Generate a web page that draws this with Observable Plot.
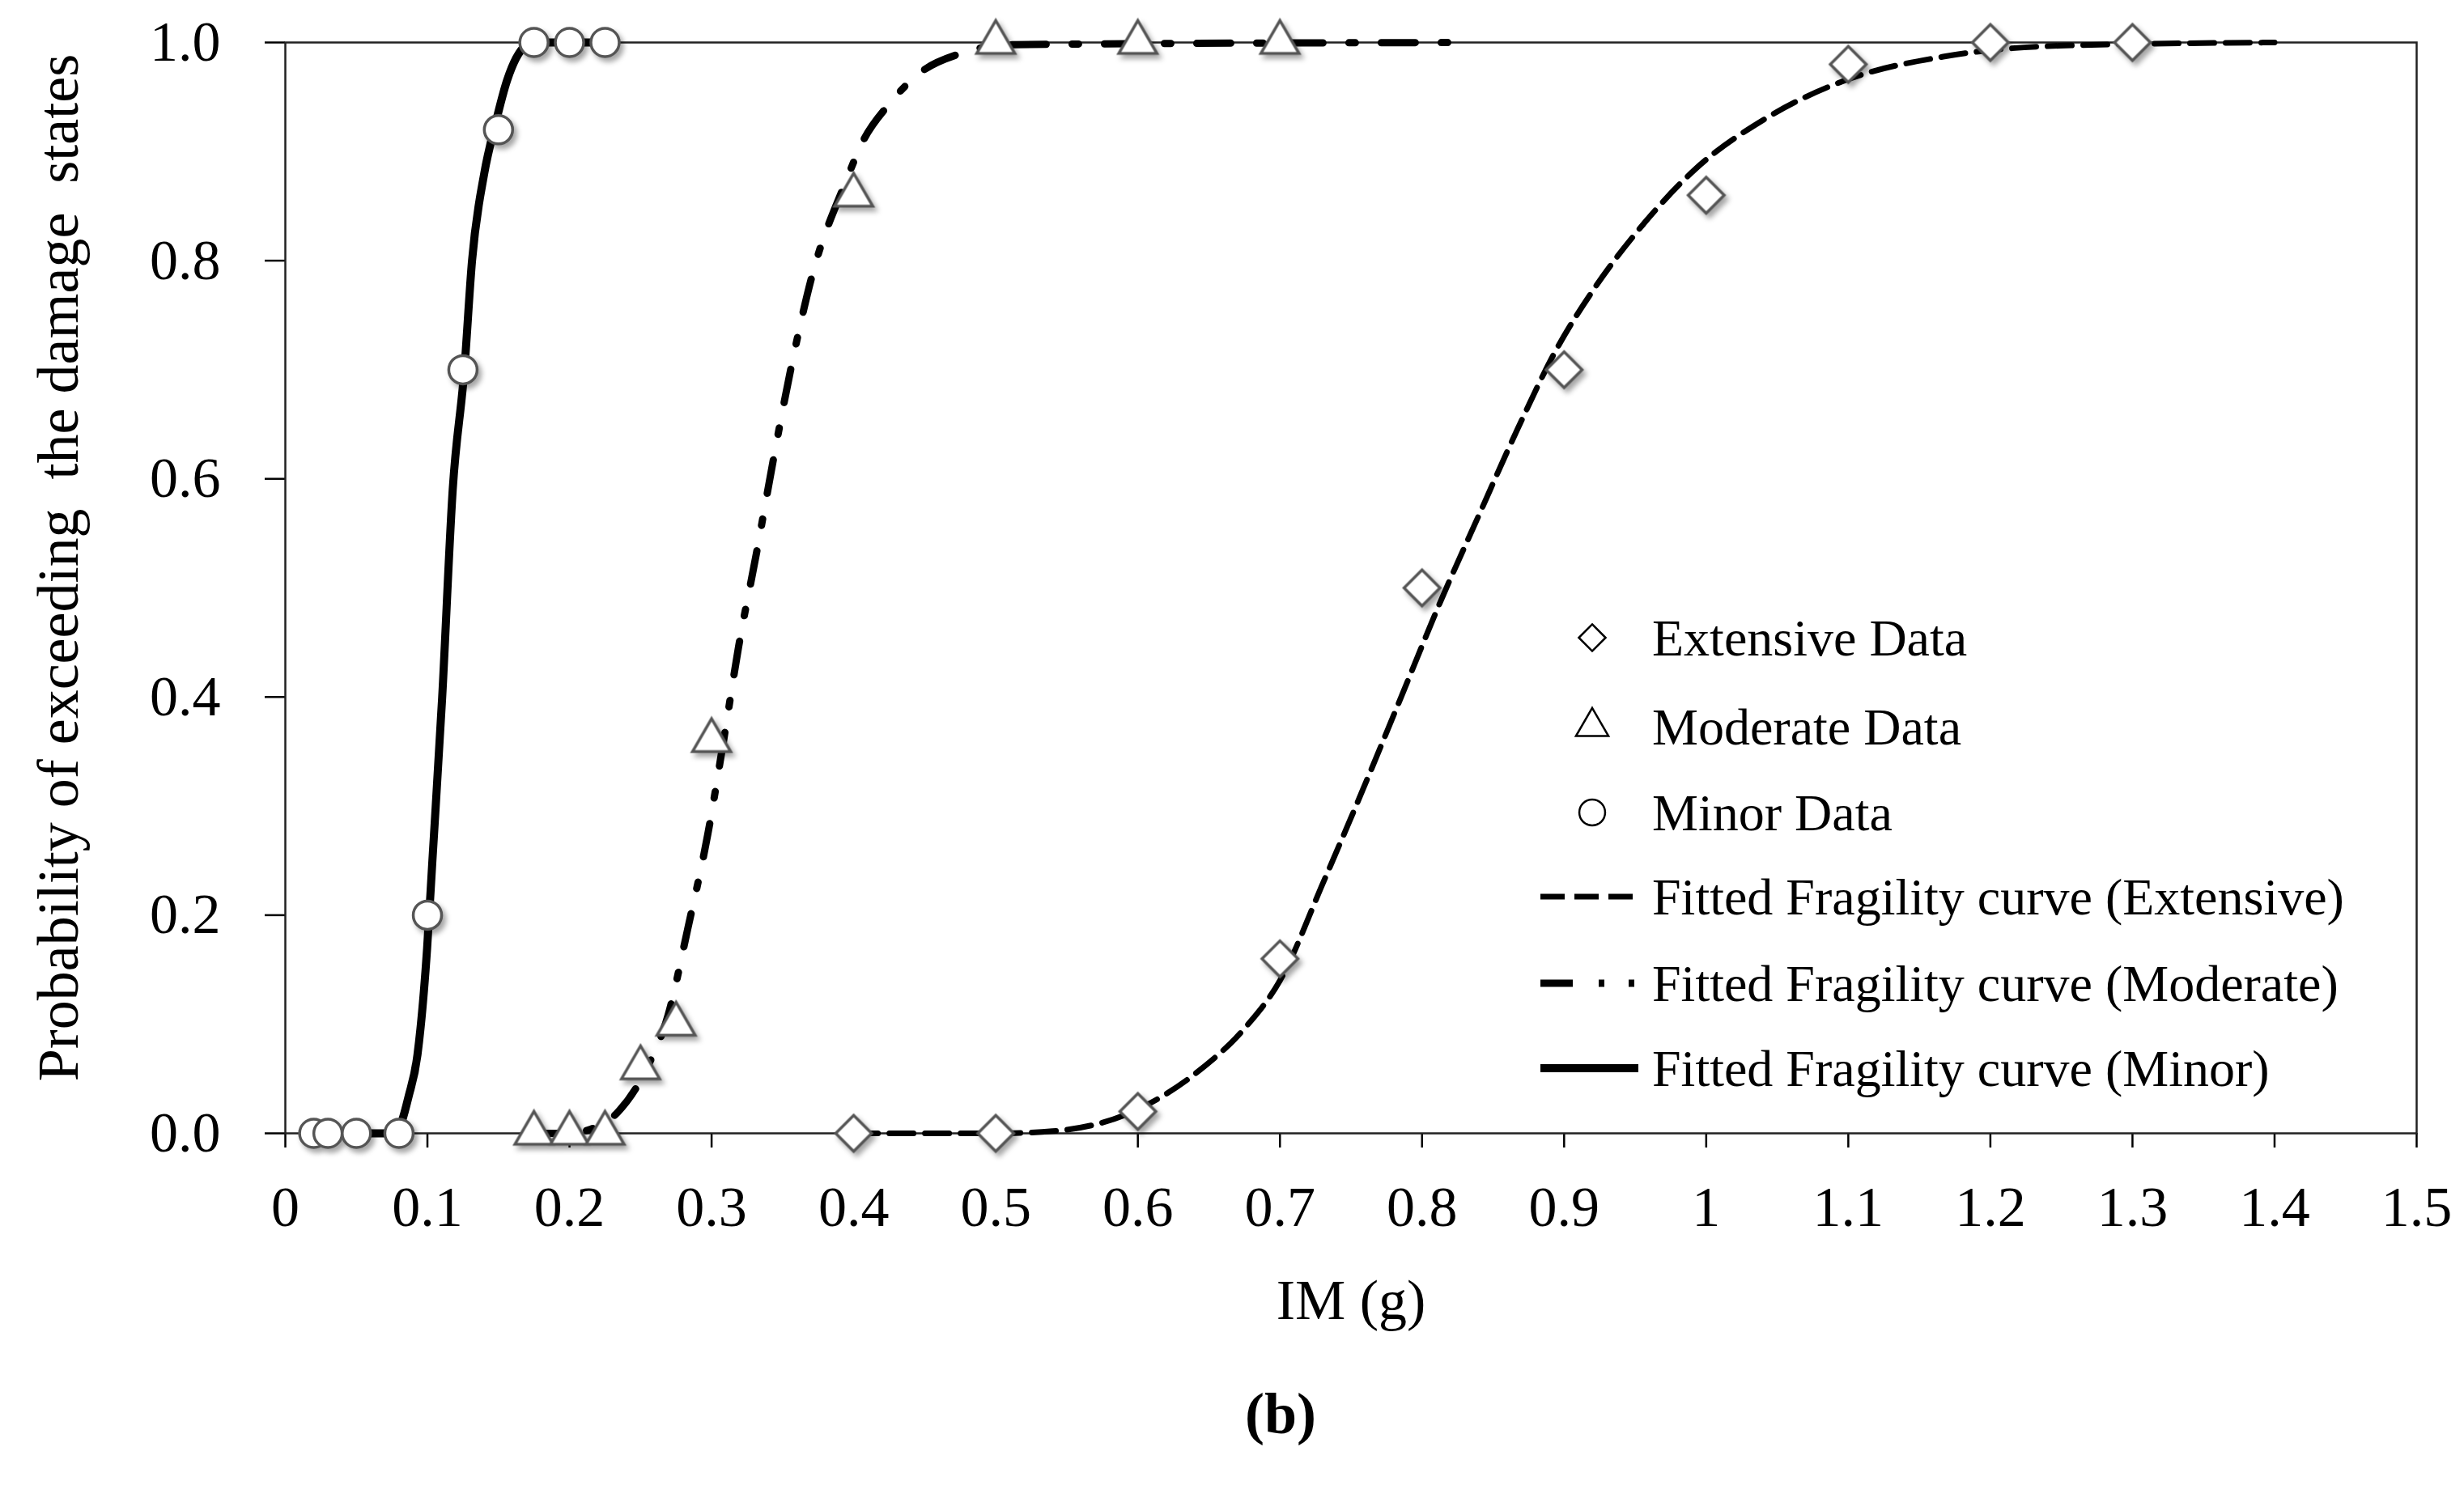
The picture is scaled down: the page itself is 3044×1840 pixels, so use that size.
<!DOCTYPE html>
<html><head><meta charset="utf-8">
<script src="https://cdn.jsdelivr.net/npm/d3@7"></script>
<script src="https://cdn.jsdelivr.net/npm/@observablehq/plot@0.6"></script>
<style>
body{margin:0;background:#fff;}
#wrap{position:relative;width:3044px;height:1840px;font-family:"Liberation Serif","Times New Roman",serif;}
#chart svg text{white-space:pre;}
#legend{position:absolute;left:0;top:0;}
#legend text{white-space:pre;}
#caption{position:absolute;left:1582px;top:1747px;transform:translate(-50%,-50%);font-size:72px;font-weight:bold;color:#000;}
</style></head><body>
<div id="wrap"><div id="chart"></div><svg id="legend" width="3044" height="1840"></svg><div id="caption">(b)</div></div>
<script>
// ---- data points ----
const extensiveX = [0.4, 0.5, 0.6, 0.7, 0.8, 0.9, 1.0, 1.1, 1.2, 1.3];
const extensiveY = [0, 0, 0.02, 0.16, 0.5, 0.7, 0.86, 0.98, 1, 1];
const moderateX = [0.175, 0.2, 0.225, 0.25, 0.275, 0.3, 0.4, 0.5, 0.6, 0.7];
const moderateY = [0, 0, 0, 0.06, 0.1, 0.36, 0.86, 1, 1, 1];
const minorX = [0.02, 0.03, 0.05, 0.08, 0.1, 0.125, 0.15, 0.175, 0.2, 0.225];
const minorY = [0, 0, 0, 0, 0.2, 0.7, 0.92, 1, 1, 1];

// ---- fitted curves ----
const extCurveX = [0.4, 0.5, 0.54, 0.6, 0.6436, 0.6763, 0.7, 0.7308, 0.758, 0.7853, 0.8125, 0.8398, 0.867, 0.8943, 0.9215, 0.9542, 0.9924, 1.0414, 1.1014, 1.1668, 1.2485, 1.4];
const extCurveY = [0, 0, 0.002, 0.022, 0.058, 0.098, 0.14, 0.231, 0.314, 0.4, 0.486, 0.566, 0.645, 0.718, 0.775, 0.831, 0.884, 0.93, 0.967, 0.987, 0.997, 1];
const modCurveX = [0.17, 0.2, 0.213, 0.2337, 0.2553, 0.2693, 0.2833, 0.2973, 0.3088, 0.319, 0.3316, 0.3431, 0.3558, 0.3711, 0.394, 0.4067, 0.4246, 0.4475, 0.4755, 0.5086, 0.83];
const modCurveY = [0, 0, 0.003, 0.019, 0.062, 0.108, 0.188, 0.274, 0.363, 0.446, 0.532, 0.615, 0.701, 0.788, 0.871, 0.910, 0.943, 0.973, 0.99, 0.998, 1];
const minCurveX = [0.02, 0.05, 0.078, 0.082, 0.0866, 0.093, 0.0998, 0.1035, 0.1104, 0.1178, 0.126, 0.1314, 0.14, 0.1478, 0.156, 0.169, 0.175, 0.23];
const minCurveY = [0, 0, 0, 0.011, 0.033, 0.072, 0.17, 0.25, 0.4, 0.59, 0.7, 0.8, 0.88, 0.925, 0.965, 0.997, 1, 1];

// ---- ticks & labels ----
const xTicks = [0, 0.1, 0.2, 0.3, 0.4, 0.5, 0.6, 0.7, 0.8, 0.9, 1, 1.1, 1.2, 1.3, 1.4, 1.5];
const xTickLabels = ["0", "0.1", "0.2", "0.3", "0.4", "0.5", "0.6", "0.7", "0.8", "0.9", "1", "1.1", "1.2", "1.3", "1.4", "1.5"];
const yTicks = [0, 0.2, 0.4, 0.6, 0.8, 1.0];
const yTickLabels = ["0.0", "0.2", "0.4", "0.6", "0.8", "1.0"];
const xLabel = "IM (g)";
const yLabel = "Probability of exceeding  the damage  states";
const legendLabels = ["Extensive Data", "Moderate Data", "Minor Data",
  "Fitted Fragility curve (Extensive)", "Fitted Fragility curve (Moderate)", "Fitted Fragility curve (Minor)"];

const pts = (xs, ys) => xs.map((x, i) => ({x, y: ys[i]}));
const xLab = new Map(xTicks.map((t, i) => [t, xTickLabels[i]]));
const yLab = new Map(yTicks.map((t, i) => [t, yTickLabels[i]]));

const markerStroke = "#555";
const chart = Plot.plot({
  width: 3044, height: 1660,
  marginLeft: 352, marginRight: 59, marginTop: 52, marginBottom: 260,
  style: {fontFamily: '"Liberation Serif", "Times New Roman", serif', fontSize: "70px", color: "#000", background: "white", overflow: "visible"},
  x: {domain: [0, 1.5]},
  y: {domain: [0, 1]},
  marks: [
    Plot.axisX(xTicks, {tickSize: 18, tickPadding: 47, tickFormat: d => xLab.get(d), strokeWidth: 2.5, label: null}),
    Plot.axisY(yTicks, {tickSize: 25, tickPadding: 55, tickFormat: d => yLab.get(d), strokeWidth: 2.5, label: null}),
    Plot.frame({stroke: "#222", strokeWidth: 2.5}),
    Plot.line(pts(extCurveX, extCurveY), {x: "x", y: "y", curve: "monotone-x", stroke: "#000", strokeWidth: 7, strokeDasharray: "30,14"}),
    Plot.line(pts(modCurveX, modCurveY), {x: "x", y: "y", curve: "monotone-x", stroke: "#000", strokeWidth: 9, strokeDasharray: "42,32,8,32"}),
    Plot.line(pts(minCurveX, minCurveY), {x: "x", y: "y", curve: "monotone-x", stroke: "#000", strokeWidth: 10}),
    Plot.dot(pts(extensiveX, extensiveY), {x: "x", y: "y", symbol: "diamond2", r: 20, fill: "white", stroke: markerStroke, strokeWidth: 3.5}),
    Plot.dot(pts(moderateX, moderateY), {x: "x", y: "y", symbol: "triangle", r: 17.5, fill: "white", stroke: markerStroke, strokeWidth: 3.5}),
    Plot.dot(pts(minorX, minorY), {x: "x", y: "y", symbol: "circle", r: 17.5, fill: "white", stroke: markerStroke, strokeWidth: 3.5}),
    Plot.text([yLabel], {frameAnchor: "left", textAnchor: "middle", lineAnchor: "middle", text: d => d, rotate: -90, dx: -280, dy: -25, fontSize: 72, fill: "#000"}),
    Plot.text([xLabel], {frameAnchor: "bottom", lineAnchor: "middle", text: d => d, dy: 207, fontSize: 70, fill: "#000"})
  ]
});
document.getElementById("chart").appendChild(chart);
chart.querySelectorAll('g[aria-label="dot"]').forEach(g => g.style.filter = "drop-shadow(4px 5px 3px rgba(0,0,0,0.35))");

// ---- legend ----
const lg = d3.select("#legend");
const rowY = [788, 898, 1004, 1108, 1215, 1320];
const symX = 1967, lineX0 = 1903, lineX1 = 2024, textX = 2041;
const legendSymbols = [d3.symbolDiamond2, d3.symbolTriangle, d3.symbolCircle];
const legendSizes = [700, 700, 800];
legendSymbols.forEach((s, i) => {
  lg.append("path").attr("d", d3.symbol(s, legendSizes[i])()).attr("transform", `translate(${symX},${rowY[i]})`)
    .attr("fill", "none").attr("stroke", "#000").attr("stroke-width", 2.5);
});
const legendDash = [{w: 7, dash: "30,12"}, {w: 9, dash: "40,32,7,30,7,100"}, {w: 10, dash: null}];
legendDash.forEach((s, i) => {
  const l = lg.append("line").attr("x1", lineX0).attr("x2", lineX1).attr("y1", rowY[3 + i]).attr("y2", rowY[3 + i])
    .attr("stroke", "#000").attr("stroke-width", s.w);
  if (s.dash) l.attr("stroke-dasharray", s.dash);
});
legendLabels.forEach((t, i) => {
  lg.append("text").attr("x", textX).attr("y", rowY[i]).attr("dy", "0.35em").text(t)
    .attr("font-family", '"Liberation Serif", "Times New Roman", serif').attr("font-size", 64).attr("fill", "#000");
});
</script>
</body></html>
